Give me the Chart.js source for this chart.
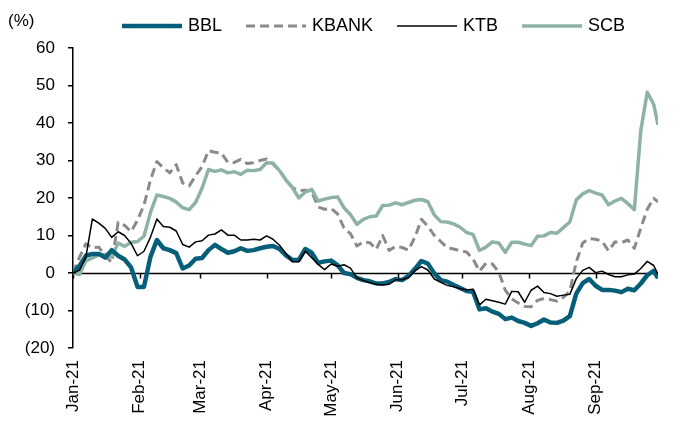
<!DOCTYPE html>
<html>
<head>
<meta charset="utf-8">
<script src="https://cdn.jsdelivr.net/npm/chart.js@4.4.0/dist/chart.umd.min.js"></script>
<style>
  body { margin: 0; background: #fff; }
  canvas { display: block; }
</style>
</head>
<body>
<canvas id="chart" width="697" height="424"></canvas>
<script>
// Thai bank share price performance in 2021, % change from the start of the year

// x values: days counted from 1 Jan 2021
const days = [0,3,6,9,12,15,18,21,24,27,30,33,36,39,42,45,48,51,54,57,60,63,66,69,72,75,78,81,84,87,
  90,93,96,99,102,105,108,111,114,117,120,123,126,129,132,135,138,141,144,147,150,153,156,159,162,165,168,171,174,177,
  180,183,186,189,192,195,198,201,204,207,210,213,216,219,222,225,228,231,234,237,240,243,246,249,252,255,258,261,264,267,
  270,272];

// month starts used as x ticks
const monthTicks = [0, 31, 59, 90, 120, 151, 181, 212, 243];
const monthLabels = ['Jan-21', 'Feb-21', 'Mar-21', 'Apr-21', 'May-21', 'Jun-21', 'Jul-21', 'Aug-21', 'Sep-21'];

const bbl = [0, 1.9, 4.6, 5.1, 5.1, 4.1, 6.1, 4.6, 3.6, 1.5,
  -3.7, -3.7, 4.3, 8.8, 6.6, 6.1, 5.3, 1.2, 2.0, 3.8,
  4.0, 6.1, 7.5, 6.4, 5.4, 5.8, 6.6, 5.9, 6.1, 6.6,
  7.0, 7.2, 6.4, 4.7, 3.5, 3.5, 6.4, 5.4, 2.7, 3.1,
  3.3, 2.1, 0, -0.3, -1.3, -1.9, -2.2, -2.8, -2.8, -2.4,
  -1.6, -1.9, -0.8, 1.1, 3.2, 2.5, -0.1, -1.9, -2.3, -3.2,
  -4.0, -4.8, -5.0, -9.7, -9.4, -10.3, -10.9, -12.3, -11.9, -12.8,
  -13.3, -14.1, -13.4, -12.4, -13.2, -13.3, -12.7, -11.5, -5.5, -2.7,
  -1.6, -3.4, -4.5, -4.5, -4.7, -5.1, -4.2, -4.6, -2.8, -0.6,
  0.6, -1.4];

const kbank = [0, 4.2, 7.8, 6.7, 6.9, 4.6, 2.8, 13.5, 12.7, 11.0,
  14.1, 18.1, 24.8, 29.7, 28.1, 26.7, 28.9, 24.0, 23.2, 25.9,
  28.4, 32.6, 32.2, 32.0, 29.5, 29.5, 30.3, 29.2, 29.4, 30.0,
  30.4, 29.1, 27.3, 24.9, 22.8, 22.0, 22.1, 21.6, 17.6, 17.0,
  17.2, 15.8, 12.0, 10.5, 7.2, 8.3, 8.1, 6.3, 10.0, 6.0,
  7.1, 6.8, 6.1, 9.6, 14.3, 12.5, 10.0, 8.4, 6.7, 6.4,
  5.9, 5.6, 3.7, 0.5, 2.6, 2.4, 0.2, -4.6, -6.9, -8.0,
  -8.9, -9.0, -7.3, -6.8, -7.1, -7.5, -6.5, -4.9, 3.0, 8.0,
  9.2, 9.0, 8.5, 5.9, 8.3, 8.1, 8.8, 6.6, 12.0, 17.0,
  19.9, 19.0];

const ktb = [0, 0.7, 4.3, 14.4, 13.3, 11.9, 9.5, 11.0, 10.0, 7.9,
  4.6, 5.8, 9.5, 14.4, 12.4, 12.2, 11.2, 7.6, 6.9, 8.3,
  8.6, 10.1, 10.4, 11.5, 10.1, 10.1, 8.8, 8.8, 9.0, 8.8,
  9.9, 9.0, 7.4, 5.2, 3.0, 3.0, 5.8, 4.1, 2.3, 0.9,
  2.4, 1.8, 2.2, 1.3, -1.3, -2.0, -2.6, -3.0, -3.2, -3.0,
  -1.8, -1.8, -1.2, 0.6, 1.7, 0.8, -1.6, -2.5, -3.3, -3.7,
  -4.2, -4.5, -4.3, -8.5, -7.0, -7.4, -7.8, -8.3, -4.9, -5.0,
  -7.8, -4.6, -3.5, -5.2, -5.5, -6.2, -5.9, -5.7, -1.5, 0.7,
  1.5, 0.1, 0.5, -0.4, -1.0, -1.0, -0.5, -0.3, 1.2, 3.1,
  2.0, -0.3];

const scb = [0, -0.4, 3.2, 4.0, 4.9, 5.0, 4.3, 8.0, 7.1, 8.2,
  8.4, 9.8, 16.1, 20.8, 20.4, 19.9, 18.9, 17.4, 16.9, 18.8,
  22.6, 27.6, 27.1, 27.5, 26.7, 27.0, 26.3, 27.4, 27.3, 27.6,
  29.4, 29.3, 27.3, 24.8, 22.8, 20.0, 21.6, 22.3, 19.2, 19.7,
  20.1, 20.3, 17.4, 15.6, 13.0, 14.3, 15.0, 15.2, 18.0, 18.1,
  18.7, 18.2, 18.8, 19.4, 19.6, 19.0, 15.5, 13.7, 13.6, 13.1,
  12.2, 10.8, 10.3, 6.0, 6.9, 8.3, 8.0, 5.5, 8.2, 8.2,
  7.7, 7.3, 9.8, 9.9, 10.8, 10.6, 12.1, 13.6, 19.5, 21.1,
  22.0, 21.3, 20.8, 18.2, 19.2, 19.9, 18.5, 16.9, 38.0, 48.2,
  45.0, 39.5];

const FONT = '17px "Liberation Sans", Arial, sans-serif';
const LEGEND_FONT = '18px "Liberation Sans", Arial, sans-serif';

function series(label, values, color, width, dash, order) {
  return {
    label: label,
    data: days.map((d, i) => ({ x: d, y: values[i] })),
    borderColor: color,
    borderWidth: width,
    borderDash: dash,
    borderJoinStyle: 'round',
    pointRadius: 0,
    tension: 0,
    fill: false,
    order: order
  };
}

// horizontal line at 0 with month tick marks
const zeroAxis = {
  id: 'zeroAxis',
  beforeDatasetsDraw(chart) {
    const { ctx, chartArea, scales } = chart;
    const y0 = Math.round(scales.y.getPixelForValue(0)) + 0.5;
    ctx.save();
    ctx.strokeStyle = '#000';
    ctx.lineWidth = 1.5;
    ctx.beginPath();
    ctx.moveTo(chartArea.left, y0);
    ctx.lineTo(chartArea.right, y0);
    monthTicks.forEach(d => {
      const px = Math.round(scales.x.getPixelForValue(d)) + 0.5;
      ctx.moveTo(px, y0);
      ctx.lineTo(px, y0 + 5);
    });
    ctx.stroke();
    ctx.restore();
  }
};

// legend row and unit label at the top
const topLegend = {
  id: 'topLegend',
  afterDraw(chart) {
    const ctx = chart.ctx;
    ctx.save();
    ctx.fillStyle = '#000';
    ctx.textBaseline = 'middle';
    ctx.font = FONT;
    ctx.fillText('(%)', 8, 21);
    ctx.font = LEGEND_FONT;
    let x = 122;
    const y = 26;
    chart.data.datasets.forEach(ds => {
      ctx.save();
      ctx.strokeStyle = ds.borderColor;
      ctx.lineWidth = ds.borderWidth;
      ctx.setLineDash(ds.borderDash || []);
      ctx.beginPath();
      ctx.moveTo(x, y);
      ctx.lineTo(x + 60, y);
      ctx.stroke();
      ctx.restore();
      ctx.fillText(ds.label, x + 66, y);
      x += 66 + ctx.measureText(ds.label).width + 24;
    });
    ctx.restore();
  }
};

new Chart(document.getElementById('chart'), {
  type: 'line',
  data: {
    datasets: [
      series('BBL', bbl, '#065f78', 4.5, [], 1),
      series('KBANK', kbank, '#8a8a8a', 3, [9, 5], 3),
      series('KTB', ktb, '#000000', 1.5, [], 0),
      series('SCB', scb, '#8fb3a2', 3.5, [], 2)
    ]
  },
  options: {
    responsive: false,
    animation: false,
    devicePixelRatio: 1,
    layout: { padding: { top: 48, right: 39, left: 0, bottom: 0 } },
    plugins: {
      legend: { display: false },
      tooltip: { enabled: false }
    },
    scales: {
      x: {
        type: 'linear',
        min: 0,
        max: 272,
        grid: { display: false, drawTicks: false },
        border: { display: false },
        afterBuildTicks: scale => {
          scale.ticks = monthTicks.map(v => ({ value: v }));
        },
        ticks: {
          autoSkip: false,
          minRotation: 90,
          maxRotation: 90,
          padding: 12,
          color: '#000',
          font: { family: '"Liberation Sans", Arial, sans-serif', size: 17 },
          callback: v => monthLabels[monthTicks.indexOf(v)]
        },
        afterFit: scale => { scale.height = 76; }
      },
      y: {
        min: -20,
        max: 60,
        ticks: {
          stepSize: 10,
          padding: 13,
          color: '#000',
          font: { family: '"Liberation Sans", Arial, sans-serif', size: 17 },
          callback: v => v < 0 ? '(' + (-v) + ')' : String(v)
        },
        grid: { drawOnChartArea: false, color: '#000', lineWidth: 1.5, tickLength: 5 },
        border: { color: '#000', width: 1.5 },
        afterFit: scale => { scale.width = 73; }
      }
    }
  },
  plugins: [zeroAxis, topLegend]
});
</script>
</body>
</html>
